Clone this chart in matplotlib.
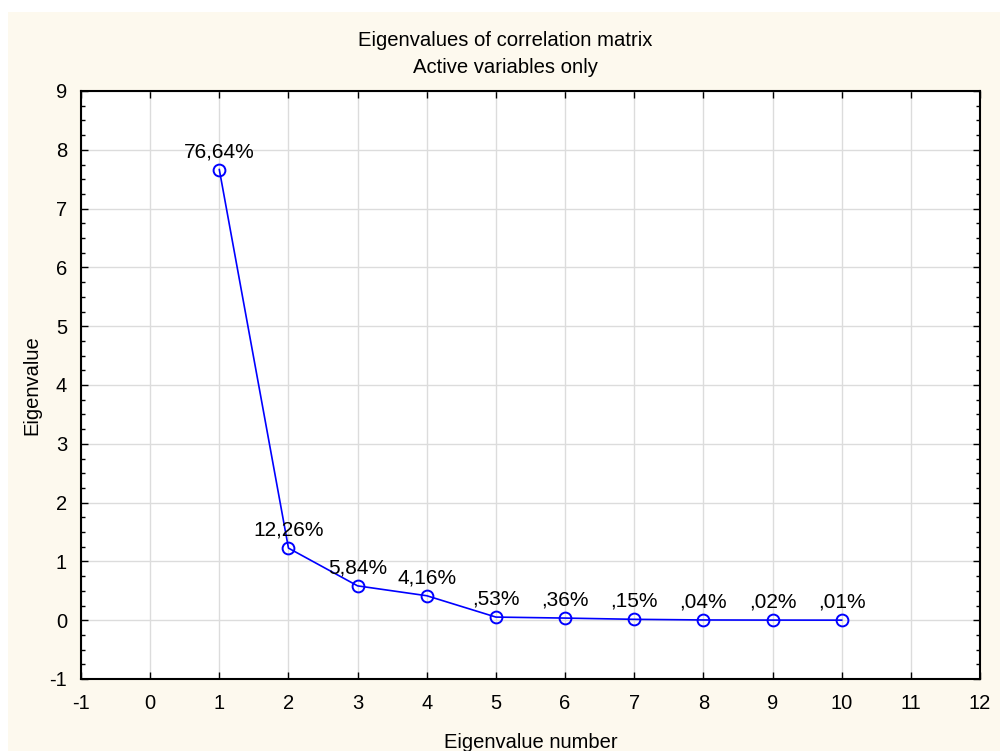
import matplotlib.pyplot as plt
from matplotlib.patches import Rectangle
from matplotlib.ticker import MultipleLocator

plt.rcParams["font.family"] = ["Liberation Sans", "DejaVu Sans"]
plt.rcParams["axes.unicode_minus"] = False

numbers = [1, 2, 3, 4, 5, 6, 7, 8, 9, 10]
eigenvalues = [7.664, 1.226, 0.584, 0.416, 0.053, 0.036, 0.015, 0.004, 0.002, 0.001]
labels = ["76,64%", "12,26%", "5,84%", "4,16%", ",53%", ",36%", ",15%", ",04%", ",02%", ",01%"]

W, H = 1000, 751
fig = plt.figure(figsize=(W / 100, H / 100), dpi=100, facecolor="white")
# cream panel behind everything
fig.patches.append(Rectangle((8 / W, 0), 1 - 8 / W, (H - 12) / H, transform=fig.transFigure,
                             facecolor="#fdf9ee", edgecolor="none", zorder=-10))

ax = fig.add_axes([81 / W, 1 - 679 / H, (980 - 81) / W, (679 - 91) / H])
ax.set_facecolor("white")

ax.plot(numbers, eigenvalues, color="#0000ff", lw=1.2, marker="o", ms=8.5,
        mfc="none", mec="#0000ff", mew=1.4, zorder=3)
for x, y, s in zip(numbers, eigenvalues, labels):
    ax.annotate(s, (x, y), xytext=(0, 6), textcoords="offset points",
                ha="center", va="bottom", fontsize=15, color="black", zorder=4)

ax.set_xlim(-1, 12)
ax.set_ylim(-1, 9)
ax.xaxis.set_major_locator(MultipleLocator(1))
ax.yaxis.set_major_locator(MultipleLocator(1))
ax.yaxis.set_minor_locator(MultipleLocator(0.25))
ax.grid(True, which="major", color="#dcdcdc", lw=1)
ax.set_axisbelow(True)
ax.tick_params(which="both", direction="in", top=True, right=True, labelsize=14.5)
ax.tick_params(axis="x", pad=11)
ax.tick_params(axis="y", pad=10)
ax.tick_params(which="major", length=5, width=1)
ax.tick_params(which="minor", length=3, width=1)
for sp in ax.spines.values():
    sp.set_linewidth(1.5)

ax.set_xlabel("Eigenvalue number", fontsize=14.5, labelpad=14)
ax.set_ylabel("Eigenvalue", fontsize=14.5, labelpad=6)

fig.text(505 / W, 1 - 46 / H, "Eigenvalues of correlation matrix", ha="center", va="baseline", fontsize=14.6)
fig.text(505 / W, 1 - 73 / H, "Active variables only", ha="center", va="baseline", fontsize=14.6)

fig.savefig("out.png", dpi=100)
